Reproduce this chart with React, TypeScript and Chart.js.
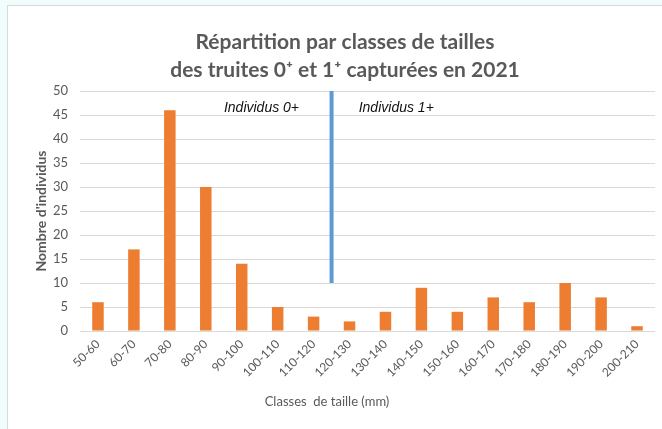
import React, { useEffect, useRef } from "react";
import { Chart, registerables } from "chart.js";

Chart.register(...registerables);

const CATEGORIES = [
  "50-60", "60-70", "70-80", "80-90", "90-100", "100-110", "110-120", "120-130",
  "130-140", "140-150", "150-160", "160-170", "170-180", "180-190", "190-200", "200-210",
];
const COUNTS = [6, 17, 46, 30, 14, 5, 3, 2, 4, 9, 4, 7, 6, 10, 7, 1];
const Y_MAX = 50;
const Y_STEP = 5;
const TITLE_LINES = ["Répartition par classes de tailles", "des truites 0⁺ et 1⁺ capturées en 2021"];
const Y_TITLE = "Nombre d'individus";
const X_TITLE = "Classes  de taille (mm)";
const ANNOT_LABELS = ["Individus 0+", "Individus 1+"];
const ANNOT_X = [4.55, 8.3];
const ANNOT_Y = [46.5, 46.5];
const DIVIDER_X = 6.5;
const DIVIDER_Y = [10, 50];

const W = 654;
const H = 423;
const FONT = "Lato, 'Open Sans', sans-serif";
const GREY = "#595959";

const overlayPlugin = {
  id: "overlay",
  afterDatasetsDraw(chart: any) {
    const { ctx, scales } = chart;
    const x = scales.x;
    const y = scales.y;
    ctx.save();
    ctx.strokeStyle = "#5b9bd5";
    ctx.lineWidth = 4;
    ctx.beginPath();
    const px = x.getPixelForValue(DIVIDER_X);
    ctx.moveTo(px, y.getPixelForValue(DIVIDER_Y[1]));
    ctx.lineTo(px, y.getPixelForValue(DIVIDER_Y[0]));
    ctx.stroke();
    ctx.restore();
  },
  afterDraw(chart: any) {
    const { ctx, scales } = chart;
    const x = scales.x;
    const y = scales.y;
    ctx.save();
    ctx.textAlign = "center";
    ctx.textBaseline = "middle";
    // title
    ctx.fillStyle = GREY;
    ctx.font = `bold 21px ${FONT}`;
    ctx.fillText(TITLE_LINES[0], 337, 36);
    ctx.fillText(TITLE_LINES[1], 337, 64);
    // annotations
    ctx.fillStyle = "#111";
    ctx.font = `italic 14px 'Liberation Sans', Arial, sans-serif`;
    ANNOT_LABELS.forEach((t, i) => {
      ctx.fillText(t, x.getPixelForValue(ANNOT_X[i]), y.getPixelForValue(ANNOT_Y[i]));
    });
    // x title
    ctx.fillStyle = GREY;
    ctx.font = `13px ${FONT}`;
    ctx.fillText(X_TITLE, 319, 396);
    // y title
    ctx.font = `bold 14px ${FONT}`;
    ctx.translate(33, 205);
    ctx.rotate(-Math.PI / 2);
    ctx.fillText(Y_TITLE, 0, 0);
    ctx.restore();
  },
};

export default function App() {
  const ref = useRef<HTMLCanvasElement>(null);
  useEffect(() => {
    document.body.style.margin = "0";
    const chart = new Chart(ref.current!, {
      type: "bar",
      data: {
        labels: CATEGORIES,
        datasets: [
          {
            data: COUNTS,
            backgroundColor: "#ed7d31",
            categoryPercentage: 1,
            barPercentage: 0.32,
          },
        ],
      },
      options: {
        responsive: false,
        animation: false,
        layout: { padding: { top: 85, right: 7, left: 0, bottom: 0 } },
        plugins: {
          legend: { display: false },
          title: { display: false },
          tooltip: { enabled: false },
        },
        scales: {
          x: {
            grid: { display: false, drawTicks: false },
            border: { display: false },
            ticks: {
              color: GREY,
              font: { family: FONT, size: 12 },
              minRotation: 45,
              maxRotation: 45,
              padding: 6,
              autoSkip: false,
            },
            afterFit(scale: any) {
              scale.height = H - 325;
            },
          },
          y: {
            min: 0,
            max: Y_MAX,
            grid: { color: "#d9d9d9", drawTicks: false },
            border: { display: false },
            ticks: {
              stepSize: Y_STEP,
              color: GREY,
              font: { family: FONT, size: 13 },
              padding: 12,
            },
            afterFit(scale: any) {
              scale.width = 72;
            },
          },
        },
      },
      plugins: [overlayPlugin],
    });
    return () => chart.destroy();
  }, []);
  return (
    <div style={{ position: "absolute", left: 0, top: 0, width: 662, height: 429, background: "#f1fdfc", overflow: "hidden" }}>
      <div
        style={{
          position: "absolute",
          left: 7,
          top: 5,
          width: W,
          height: H,
          background: "#fff",
          borderTop: "1px solid #d9d9d9",
          borderLeft: "1px solid #d9d9d9",
        }}
      >
        <canvas ref={ref} width={W} height={H} style={{ display: "block", width: W, height: H }} />
      </div>
    </div>
  );
}
